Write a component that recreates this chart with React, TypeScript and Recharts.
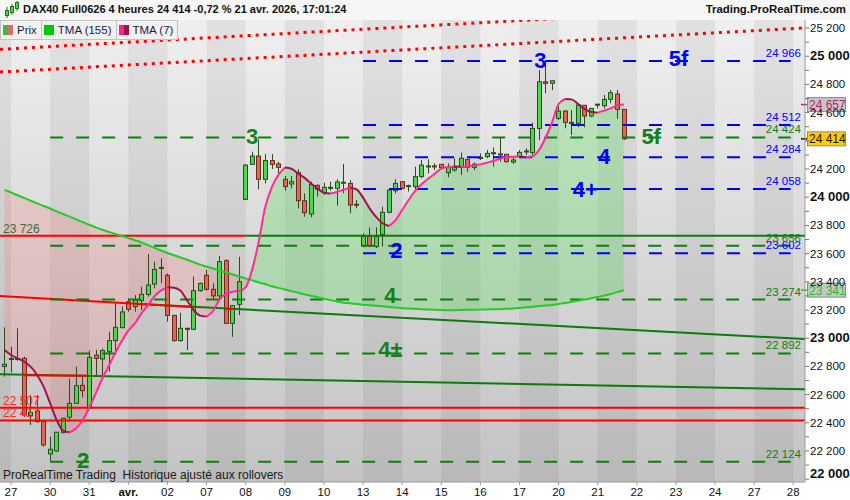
import React from "react";
import {
  ComposedChart,
  Bar,
  Line,
  Area,
  XAxis,
  YAxis,
  ReferenceLine,
  ReferenceArea,
  ReferenceDot,
} from "recharts";

// 4h candles, DAX40 Full0626 (index = bar number)
const opens = [
  22800, 22852, 22856, 22857, 22450, 22483, 22408, 22179, 22200, 22330,
  22440, 22538, 22666, 22503, 22880, 22853, 22904, 22983, 23075, 23259,
  23224, 23266, 23311, 23384, 23500, 23446, 23162, 22983, 23070, 23063,
  23337, 23446, 23347, 23300, 23550, 23105, 23240, 23985, 24233, 24292,
  24127, 24260, 24236, 24127, 24094, 24174, 23975, 23881, 24084, 24032,
  24066, 24063, 24103, 24098, 23950, 23654, 23721, 23650, 23736, 23893,
  24046, 24110, 24080, 24075, 24146, 24220, 24222, 24233, 24174, 24193,
  24212, 24269, 24212, 24280, 24288, 24316, 24306, 24304, 24250, 24288,
  24326, 24316, 24488, 24819, 24808, 24559, 24611, 24531, 24524, 24652,
  24576, 24658, 24649, 24694, 24732, 24623,
];
const highs = [
  23077, 22940, 23070, 22870, 22597, 22597, 22410, 22302, 22335, 22435,
  22715, 22798, 22727, 22912, 22917, 22928, 23046, 23252, 23224, 23283,
  23306, 23366, 23597, 23543, 23567, 23460, 23165, 23181, 23075, 23437,
  23395, 23484, 23389, 23583, 23560, 23235, 23578, 24235, 24323, 24410,
  24306, 24306, 24252, 24150, 24150, 24198, 24028, 24110, 24091, 24103,
  24110, 24127, 24236, 24122, 23980, 23744, 23786, 23786, 23933, 24055,
  24127, 24115, 24090, 24217, 24264, 24269, 24240, 24235, 24240, 24276,
  24316, 24269, 24245, 24311, 24335, 24354, 24418, 24304, 24283, 24335,
  24347, 24529, 24902, 24961, 24826, 24642, 24618, 24618, 24654, 24652,
  24630, 24663, 24725, 24760, 24760, 24623,
];
const lows = [
  22727, 22756, 22840, 22440, 22384, 22400, 22230, 22124, 22195, 22325,
  22420, 22538, 22580, 22500, 22739, 22739, 22763, 22881, 23070, 23188,
  23188, 23200, 23295, 23354, 23390, 23117, 22975, 22975, 22916, 23058,
  23330, 23337, 23271, 23271, 23105, 23010, 23164, 23980, 24228, 24056,
  24098, 24200, 24170, 24046, 24063, 23921, 23862, 23857, 24004, 24016,
  24046, 23940, 24028, 23886, 23921, 23645, 23654, 23640, 23650, 23886,
  24027, 24060, 24040, 24063, 24134, 24169, 24193, 24200, 24141, 24181,
  24157, 24181, 24193, 24264, 24276, 24217, 24252, 24245, 24236, 24288,
  24300, 24300, 24406, 24737, 24760, 24548, 24489, 24441, 24496, 24496,
  24567, 24630, 24630, 24666, 24555, 24406,
];
const closes = [
  22815, 22856, 22853, 22455, 22474, 22408, 22243, 22212, 22333, 22432,
  22538, 22663, 22628, 22864, 22857, 22912, 22983, 23077, 23186, 23205,
  23271, 23311, 23377, 23488, 23502, 23162, 22983, 23070, 23066, 23337,
  23389, 23347, 23300, 23543, 23105, 23231, 23401, 24228, 24292, 24127,
  24260, 24233, 24212, 24075, 24110, 23975, 23890, 24091, 24056, 24070,
  24070, 24108, 24106, 23945, 23948, 23721, 23654, 23721, 23893, 24051,
  24098, 24063, 24082, 24146, 24228, 24222, 24220, 24210, 24210, 24212,
  24276, 24212, 24235, 24282, 24311, 24316, 24307, 24252, 24264, 24318,
  24328, 24488, 24819, 24808, 24826, 24611, 24531, 24526, 24654, 24576,
  24630, 24660, 24694, 24741, 24623, 24414,
];

// moving averages
const tma7 = [
  22916, 22881, 22857, 22834, 22798, 22739, 22656, 22538, 22420, 22344,
  22332, 22361, 22420, 22507, 22609, 22713, 22803, 22897, 22980, 23054,
  23105, 23176, 23233, 23297, 23337, 23361, 23358, 23337, 23269, 23200,
  23160, 23153, 23193, 23276, 23314, 23330, 23335, 23361, 23488, 23685,
  23930, 24070, 24157, 24210, 24202, 24169, 24139, 24098, 24063, 24032,
  24027, 24037, 24053, 24068, 24056, 23997, 23921, 23860, 23815, 23796,
  23838, 23909, 23980, 24045, 24094, 24131, 24167, 24202, 24215, 24217,
  24216, 24218, 24226, 24233, 24245, 24257, 24273, 24285, 24287, 24288,
  24283, 24290, 24335, 24422, 24531, 24661, 24697, 24694, 24661, 24626,
  24604, 24600, 24614, 24630, 24652, 24657,
];
const tma155 = [
  24052, 24034, 24014, 23995, 23975, 23956, 23938, 23920, 23900, 23881,
  23862, 23843, 23823, 23805, 23786, 23769, 23754, 23739, 23725, 23710,
  23695, 23679, 23660, 23641, 23622, 23604, 23588, 23572, 23556, 23539,
  23522, 23508, 23494, 23480, 23466, 23452, 23438, 23424, 23410, 23396,
  23383, 23369, 23357, 23346, 23334, 23323, 23312, 23301, 23290, 23280,
  23270, 23260, 23252, 23248, 23243, 23238, 23234, 23230, 23226, 23222,
  23217, 23213, 23210, 23208, 23206, 23204, 23202, 23200, 23199, 23199,
  23200, 23201, 23202, 23203, 23204, 23205, 23206, 23208, 23211, 23215,
  23219, 23223, 23228, 23232, 23236, 23243, 23250, 23258, 23266, 23274,
  23283, 23292, 23302, 23314, 23327, 23341,
];

// x axis: first bar of each day
const dayStarts = [1, 7, 13, 19, 25, 31, 37, 43, 49, 55, 61, 67, 73, 79, 85, 91, 97, 103, 109, 115, 121];
const dayLabels = ["27", "30", "31", "avr.", "02", "07", "08", "09", "10", "13", "14", "15", "16", "17", "20", "21", "22", "23", "24", "27", "28"];

const yTicks = [
  22000, 22100, 22200, 22300, 22400, 22500, 22600, 22700, 22800, 22900,
  23000, 23100, 23200, 23300, 23400, 23500, 23600, 23700, 23800, 23900,
  24000, 24100, 24200, 24300, 24400, 24500, 24600, 24700, 24800, 24900,
  25000, 25100, 25200,
];
// tick label hidden behind the price tag
const yHidden = [24400];

// projection levels
const blueLevels = [24966, 24512, 24284, 24058, 23602];
const greenLevels = [24424, 23656, 23274, 22892, 22124];
const redLevels = [22507, 22417];
const blueStart = 55;
const greenStart = 7;
const levelEnd = 120.6;

// trend lines [x1, y1, x2, y2]
const dottedChannel = [
  [-0.69, 25049, 122.8, 25365],
  [-0.69, 24888, 122.8, 25201],
];
const greenTrends = [
  [20, 23245, 122.8, 22994],
  [-0.69, 22744, 122.8, 22637],
  [37, 23726, 122.8, 23726],
];
const redTrends = [
  [-0.69, 23299, 28.9, 23221],
  [3.0, 22737, 12.8, 22733],
  [33.8, 23208, 35.1, 23207],
  [-0.69, 23726, 37, 23726],
];

// wave counts
const waveText = ["2", "3", "4±", "4", "2", "3", "4+", "4", "5f", "5f"];
const waveX = [12.05, 38.0, 59.2, 59.2, 60.1, 82.2, 89.1, 92.0, 99.2, 103.4];
const waveY = [22136, 24434, 22923, 23306, 23626, 24973, 24058, 24292, 24434, 24987];
const waveBlue = [false, false, false, false, true, true, true, true, false, true];

const X_MIN = -0.69;
const X_MAX = 122.8;
const Y_MIN = 21980;
const Y_MAX = 25257;

const GREEN = "#0b800b";
const BLUE = "#0000ff";
const RED = "#ff0000";

const fmt = (v: number) => {
  const s = String(Math.round(v));
  return s.slice(0, s.length - 3) + " " + s.slice(-3);
};

const rows = opens.map((o, i) => {
  const below = (k: number) => k >= 0 && k < tma7.length && tma7[k] <= tma155[k];
  const above = (k: number) => k >= 0 && k < tma7.length && tma7[k] >= tma155[k];
  return {
    i,
    o,
    h: highs[i],
    l: lows[i],
    c: closes[i],
    tma155: tma155[i],
    redBand: below(i) || below(i - 1) || below(i + 1) ? [tma7[i], tma155[i]] : null,
    greenBand: above(i) || above(i - 1) || above(i + 1) ? [tma7[i], tma155[i]] : null,
  };
});

// split TMA(7) into rising / falling runs (pink / maroon)
const tma7Runs = (() => {
  const runs: { up: boolean; pts: { i: number; v: number }[] }[] = [];
  for (let k = 0; k < tma7.length - 1; k++) {
    const up = tma7[k + 1] >= tma7[k];
    const last = runs[runs.length - 1];
    if (last && last.up === up) last.pts.push({ i: k + 1, v: tma7[k + 1] });
    else runs.push({ up, pts: [{ i: k, v: tma7[k] }, { i: k + 1, v: tma7[k + 1] }] });
  }
  return runs;
})();

const Candle = (props: any) => {
  const { x, y, width, height, payload } = props;
  if (!payload || height == null) return null;
  const { o, h, l, c } = payload;
  const k = height / (h - l);
  const yO = y + (h - o) * k;
  const yC = y + (h - c) * k;
  const up = c >= o;
  const top = Math.min(yO, yC);
  const bh = Math.max(1, Math.abs(yO - yC));
  const cx = Math.round(x + width / 2) + 0.5;
  const bx = Math.round(x) + 0.5;
  return (
    <g>
      <line x1={cx} x2={cx} y1={y} y2={y + height} stroke="#2e4a1c" strokeWidth={1} />
      <rect
        x={bx}
        y={top}
        width={Math.round(width)}
        height={bh}
        fill={up ? "#4ed64e" : "#e2675b"}
        stroke={up ? "#1d521d" : "#6b2b1f"}
        strokeWidth={1}
      />
    </g>
  );
};

const YTick = (props: any) => {
  const { x, y, payload } = props;
  const v = payload.value;
  if (v % 200 !== 0 || yHidden.includes(v)) return null;
  const major = v % 1000 === 0;
  return (
    <text
      x={x}
      y={y}
      dy={v === 22000 ? -1 : 4}
      textAnchor="start"
      fontSize={major ? 13 : 11.5}
      fontWeight={major ? 700 : 400}
      fill="#111"
    >
      {fmt(v)}
    </text>
  );
};

const XTick = (props: any) => {
  const { x, y, payload } = props;
  const label = dayLabels[dayStarts.indexOf(payload.value)];
  return (
    <text x={x} y={y} dy={9} textAnchor="middle" fontSize={11.5} fontWeight={label === "avr." ? 700 : 400} fill="#111">
      {label}
    </text>
  );
};

const axisTag = (text: string, bg: string, color: string) => (p: any) => {
  const vb = p.viewBox || {};
  const x = vb.x + vb.width;
  const y = vb.y;
  return (
    <g>
      <line x1={x - 4} x2={x + 3} y1={y} y2={y} stroke={color} strokeWidth={1.5} />
      <rect x={x + 2.5} y={y - 7} width={38} height={14} fill={bg} stroke="#8c8c8c" />
      <text x={x + 4} y={y + 4.5} fontSize={12} fill={color}>
        {text}
      </text>
    </g>
  );
};

const legendBox: React.CSSProperties = {
  display: "flex",
  alignItems: "center",
  height: 18,
  padding: "0 4px 0 2px",
  background: "#f1f1f1",
  border: "1px solid #c2c2c2",
  marginRight: -1,
  fontSize: 11.5,
  color: "#1c1c3a",
};

const Swatch = ({ a, b }: { a: string; b?: string }) => (
  <span style={{ display: "inline-flex", width: 10, height: 10, marginRight: 4 }}>
    <span style={{ width: b ? 5 : 10, height: 10, background: a }} />
    {b && <span style={{ width: 5, height: 10, background: b }} />}
  </span>
);

export default function App() {
  const oddDays = dayStarts
    .map((s, k) => ({ s, e: k + 1 < dayStarts.length ? dayStarts[k + 1] : X_MAX, k }))
    .filter((d) => d.k % 2 === 1);

  return (
    <div
      style={{
        position: "absolute",
        left: 0,
        top: 0,
        width: 850,
        height: 500,
        overflow: "hidden",
        background: "#ffffff",
        fontFamily: "'Liberation Sans', Arial, sans-serif",
      }}
    >
      <div style={{ position: "absolute", left: 0, top: 0, width: 850, height: 20, background: "#f6f6f6" }} />
      <ComposedChart
        width={850}
        height={500}
        data={rows}
        margin={{ top: 20, right: 0, bottom: 0, left: 0 }}
        style={{ position: "absolute", left: 0, top: 0 }}
      >
        <defs>
          <linearGradient id="bgGrad" x1="0" y1="0" x2="0" y2="1">
            <stop offset="0%" stopColor="#efefef" />
            <stop offset="50%" stopColor="#d9d9d9" />
            <stop offset="100%" stopColor="#c3c3c3" />
          </linearGradient>
        </defs>
        <XAxis
          dataKey="i"
          type="number"
          domain={[X_MIN, X_MAX]}
          allowDataOverflow
          ticks={dayStarts}
          interval={0}
          height={18}
          tickSize={3}
          tick={<XTick />}
          axisLine={{ stroke: "#9a9a9a" }}
          tickLine={{ stroke: "#9a9a9a" }}
        />
        <YAxis
          orientation="right"
          type="number"
          domain={[Y_MIN, Y_MAX]}
          allowDataOverflow
          ticks={yTicks}
          interval={0}
          width={45}
          tickSize={4}
          tickMargin={1}
          tick={<YTick />}
          axisLine={{ stroke: "#9a9a9a" }}
          tickLine={{ stroke: "#777" }}
        />

        <ReferenceArea x1={X_MIN} x2={X_MAX} fill="url(#bgGrad)" fillOpacity={1} stroke="none" ifOverflow="hidden" />
        <ReferenceArea x1={X_MIN} x2={dayStarts[0]} fill="#000" fillOpacity={0.055} stroke="none" ifOverflow="hidden" />
        {oddDays.map((d) => (
          <ReferenceArea key={"band" + d.k} x1={d.s} x2={d.e} fill="#000" fillOpacity={0.055} stroke="none" ifOverflow="hidden" />
        ))}

        <Area dataKey="redBand" type="monotone" stroke="none" fill="#ff6a6a" fillOpacity={0.2} isAnimationActive={false} />
        <Area dataKey="greenBand" type="monotone" stroke="none" fill="#62dc62" fillOpacity={0.33} isAnimationActive={false} />

        {dottedChannel.map((t, k) => (
          <ReferenceLine
            key={"dot" + k}
            segment={[{ x: t[0], y: t[1] }, { x: t[2], y: t[3] }]}
            stroke={RED}
            strokeWidth={3}
            strokeDasharray="3 5"
            ifOverflow="hidden"
          />
        ))}
        {greenTrends.map((t, k) => (
          <ReferenceLine
            key={"gt" + k}
            segment={[{ x: t[0], y: t[1] }, { x: t[2], y: t[3] }]}
            stroke="#0c7a0c"
            strokeWidth={2}
            ifOverflow="hidden"
          />
        ))}
        {redTrends.map((t, k) => (
          <ReferenceLine
            key={"rt" + k}
            segment={[{ x: t[0], y: t[1] }, { x: t[2], y: t[3] }]}
            stroke={RED}
            strokeWidth={2}
            ifOverflow="hidden"
          />
        ))}
        {redLevels.map((v) => (
          <ReferenceLine
            key={"rl" + v}
            y={v}
            stroke={RED}
            strokeWidth={2}
            label={{ value: fmt(v), position: "insideBottomLeft", offset: 3, fill: "#ff2a2a", fontSize: 12 }}
          />
        ))}
        <ReferenceLine
          y={23726}
          stroke="none"
          label={{ value: fmt(23726), position: "insideBottomLeft", offset: 3, fill: "#3f6a3f", fontSize: 12 }}
        />

        {blueLevels.map((v) => (
          <ReferenceLine
            key={"bl" + v}
            segment={[{ x: blueStart, y: v }, { x: levelEnd, y: v }]}
            stroke={BLUE}
            strokeWidth={2}
            strokeDasharray="13 13"
          />
        ))}
        {greenLevels.map((v) => (
          <ReferenceLine
            key={"gl" + v}
            segment={[{ x: greenStart, y: v }, { x: levelEnd, y: v }]}
            stroke={GREEN}
            strokeWidth={2}
            strokeDasharray="13 13"
          />
        ))}
        {blueLevels.map((v) => (
          <ReferenceLine
            key={"blt" + v}
            y={v}
            stroke="none"
            label={{ value: fmt(v), position: "insideBottomRight", offset: 4, fill: BLUE, fontSize: 11.5 }}
          />
        ))}
        {greenLevels.map((v) => (
          <ReferenceLine
            key={"glt" + v}
            y={v}
            stroke="none"
            label={{ value: fmt(v), position: "insideBottomRight", offset: 4, fill: GREEN, fontSize: 11.5 }}
          />
        ))}

        <Line dataKey="tma155" type="monotone" stroke="#22cc22" strokeWidth={2} dot={false} isAnimationActive={false} />

        <Bar dataKey={(d: any) => [d.l, d.h]} barSize={4} shape={<Candle />} isAnimationActive={false} />

        {tma7Runs.map((r, k) => (
          <Line
            key={"tma7_" + k}
            data={r.pts}
            dataKey="v"
            type="monotone"
            stroke={r.up ? "#ff2b95" : "#a0124f"}
            strokeWidth={2}
            dot={false}
            isAnimationActive={false}
          />
        ))}

        {waveText.map((t, k) => (
          <ReferenceDot
            key={"w" + k}
            x={waveX[k]}
            y={waveY[k]}
            r={0}
            fill="none"
            stroke="none"
            label={{
              value: t,
              position: "center",
              fill: waveBlue[k] ? BLUE : "#12801c",
              fontSize: 22,
              fontWeight: 700,
            }}
          />
        ))}

        <ReferenceLine y={24657} stroke="none" label={axisTag("24 657", "#c6c6c6", "#b8246c")} />
        <ReferenceLine y={24414} stroke="none" label={axisTag("24 414", "#ffcc00", "#111111")} />
        <ReferenceLine y={23341} stroke="none" label={axisTag("23 341", "#c6c6c6", "#1fbf1f")} />
      </ComposedChart>

      {/* header */}
      <svg width={16} height={18} style={{ position: "absolute", left: 4, top: 1 }}>
        <line x1={3} x2={3} y1={6} y2={17} stroke="#2e6b1e" />
        <rect x={1.5} y={9.5} width={3} height={5} fill="#4ed64e" stroke="#2e6b1e" />
        <line x1={8} x2={8} y1={3} y2={14} stroke="#2e6b1e" />
        <rect x={6.5} y={5.5} width={3} height={6} fill="#4ed64e" stroke="#2e6b1e" />
        <line x1={13} x2={13} y1={0} y2={10} stroke="#2e6b1e" />
        <rect x={11.5} y={1.5} width={3} height={6} fill="#4ed64e" stroke="#2e6b1e" />
      </svg>
      <div style={{ position: "absolute", left: 23, top: 3, fontSize: 11, fontWeight: 700, color: "#111", whiteSpace: "nowrap" }}>
        DAX40 Full0626 4 heures 24 414 -0,72 % 21 avr. 2026, 17:01:24
      </div>
      <div style={{ position: "absolute", right: 4, top: 3, fontSize: 11.4, fontWeight: 700, color: "#111", whiteSpace: "nowrap" }}>
        Trading.ProRealTime.com
      </div>

      {/* legend */}
      <div style={{ position: "absolute", left: 0, top: 20, display: "flex" }}>
        <div style={legendBox}>
          <Swatch a="#3dbb3d" b="#e06a6a" />
          Prix
        </div>
        <div style={legendBox}>
          <Swatch a="#00c800" />
          TMA (155)
        </div>
        <div style={legendBox}>
          <Swatch a="#f0288c" b="#a0124f" />
          TMA (7)
        </div>
      </div>

      <div style={{ position: "absolute", left: 3, top: 468, fontSize: 12, color: "#1a1a1a", whiteSpace: "pre" }}>
        ProRealTime Trading  Historique ajusté aux rollovers
      </div>
    </div>
  );
}
